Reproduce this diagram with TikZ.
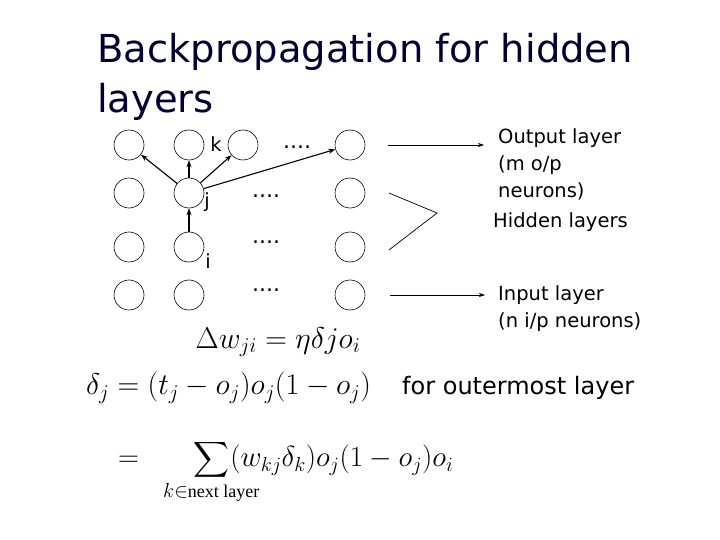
\documentclass[tikz,border=0pt]{standalone}
\usepackage{fix-cm}
\usepackage{amsmath}
\usepackage{fontspec}
\setmainfont{DejaVu Sans}
\newfontfamily\serifit{Liberation Serif}
\usetikzlibrary{arrows.meta}
\begin{document}
\begin{tikzpicture}[x=1pt,y=-1pt,
  neuron/.style={draw,circle,minimum size=30pt,inner sep=0pt,line width=0.6pt},
  conn/.style={-{Stealth[length=7pt,width=5pt]},line width=1.1pt},
  lbl/.style={font=\fontsize{19.5}{27}\selectfont,align=left,inner sep=0pt},
  dotsn/.style={font=\fontsize{22}{24}\selectfont,inner sep=0pt}]
\useasboundingbox (0,0) rectangle (720,540);
\node[anchor=west,inner sep=0pt,font=\fontsize{38.5}{42}\selectfont,text=black!80!blue] (t1) at (97,52) {Backpropagation for hidden};
\node[anchor=west,inner sep=0pt,font=\fontsize{38.5}{42}\selectfont,text=black!80!blue] (t2) at (97,102) {layers};
\foreach \r/\y in {1/145,2/193,3/247,4/295}{
  \node[neuron] (a\r) at (129,\y) {};
  \node[neuron] (b\r) at (189,\y) {};
  \node[neuron] (d\r) at (350,\y) {};
}
\node[neuron] (c1) at (243,145) {};
\node[dotsn] (p1) at (297,147) {....};
\node[dotsn] (p2) at (266,196) {....};
\node[dotsn] (p3) at (266,242) {....};
\node[dotsn] (p4) at (266,290) {....};
\node[lbl] (k) at (216,144) {k};
\node[lbl] (j) at (207,202) {j};
\node[lbl] (i) at (208,261) {i};
\draw[conn] (b2) -- (a1);
\draw[conn] (b2) -- (b1);
\draw[conn] (b2) -- (c1);
\draw[conn] (b2) -- (d1);
\draw[conn] (b3) -- (b2);
\coordinate (o1) at (388,145); \coordinate (o2) at (484,145);
\draw[-{Stealth[length=6pt,width=4pt]},line width=0.7pt] (o1) -- (o2);
\coordinate (h1) at (389,193); \coordinate (h2) at (437,213); \coordinate (h3) at (389,250);
\draw[line width=0.7pt] (h1) -- (h2) -- (h3);
\coordinate (n1) at (390,295); \coordinate (n2) at (485,295);
\draw[-{Stealth[length=6pt,width=4pt]},line width=0.7pt] (n1) -- (n2);
\node[lbl,anchor=north west] (out) at (498,128) {Output layer\\(m o/p\\neurons)};
\node[lbl,anchor=north west] (hid) at (493,212) {Hidden layers};
\node[lbl,anchor=north west] (inp) at (498,285) {Input layer\\(n i/p neurons)};
\node[inner sep=0pt,font=\fontsize{30}{34}\selectfont] (e1) at (278,342) {$\Delta w_{ji}=\eta\delta j o_i$};
\node[inner sep=0pt,anchor=west,font=\fontsize{30}{34}\selectfont] (e2) at (86,388) {$\delta_j=(t_j-o_j)o_j(1-o_j)$};
\node[lbl,anchor=west,font=\fontsize{24}{28}\selectfont] (fo) at (402,388) {for outermost layer};
\node[inner sep=0pt,anchor=west,font=\fontsize{29}{32}\selectfont] (e3) at (118,472) {$=\;\;\displaystyle\sum_{k\in\mbox{\fontsize{18}{20}\serifit next layer}}\!\!\!\!\!\!(w_{kj}\delta_k)o_j(1-o_j)o_i$};
\end{tikzpicture}
\end{document}
